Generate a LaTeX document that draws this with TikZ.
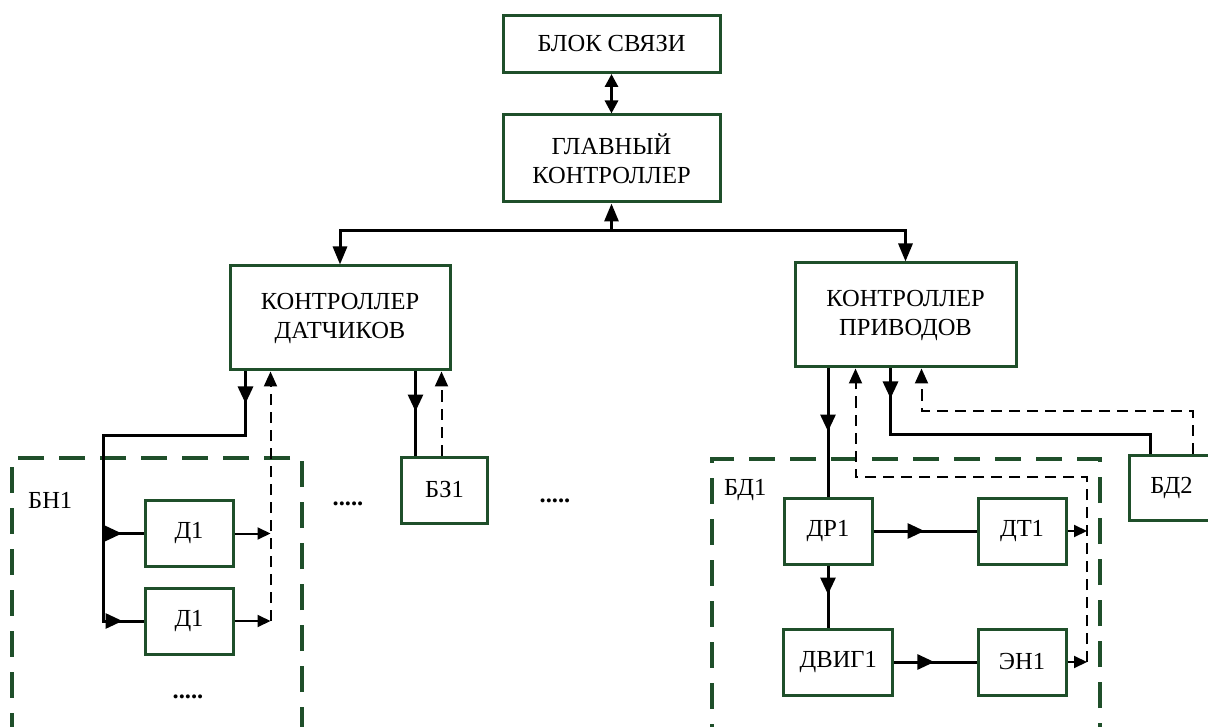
\documentclass[tikz,border=0pt]{standalone}
\usepackage{fontspec}
\setmainfont{Liberation Serif}
\usepackage{tikz}
\usetikzlibrary{arrows.meta,positioning,calc,decorations.markings}
\usepackage{xcolor}
\definecolor{boxgreen}{HTML}{1F4F2A}

\begin{document}
\begin{tikzpicture}[
  x=1pt, y=-1pt,
  blk/.style={draw=boxgreen, line width=3pt, fill=white, inner sep=0pt, font=\fontsize{24.5}{29}\selectfont, align=center},
  grp/.style={draw=boxgreen, line width=4pt, dash pattern=on 26pt off 15pt, inner sep=0pt},
  lbl/.style={font=\fontsize{24.5}{29}\selectfont, inner sep=0pt},
  conn/.style={line width=3pt, black},
  outl/.style={line width=2pt, black, -{Triangle[length=13pt, width=12pt]}},
  fb/.style={line width=2pt, black, dash pattern=on 11pt off 7pt, -{Triangle[length=15pt, width=13pt]}},
  tip/.style={-{Triangle[length=18pt, width=14pt]}},
  tipat/.style={postaction={decorate, decoration={markings, mark=at position #1 with {\arrow{Triangle[length=17pt, width=15pt]}}}}}
]
  \useasboundingbox (0,0) rectangle (1208,727);

  % groups
  \node[grp, minimum width=290pt, minimum height=272pt] (bn1) at (157,594) {};
  \node[grp, minimum width=388pt, minimum height=271pt] (bd1) at (906,594.5) {};
  \node[lbl, anchor=west] (bn1lbl) at (28,500) {БН1};
  \node[lbl, anchor=west] (bd1lbl) at (724,490) {БД1};

  % upper level
  \node[blk, minimum width=217pt, minimum height=57pt] (blok) at (611.5,44) {БЛОК СВЯЗИ};
  \node[blk, minimum width=217pt, minimum height=87pt] (glav) at (611.5,158.5) {ГЛАВНЫЙ\\КОНТРОЛЛЕР};
  \node[blk, minimum width=220pt, minimum height=104pt] (kd) at (340,318) {КОНТРОЛЛЕР\\ДАТЧИКОВ};
  \node[blk, minimum width=221pt, minimum height=104pt] (kp) at (905.5,315) {КОНТРОЛЛЕР\\ПРИВОДОВ};

  % sensors
  \node[blk, minimum width=88pt, minimum height=66pt] (d1a) at (189,533.5) {Д1};
  \node[blk, minimum width=88pt, minimum height=66pt] (d1b) at (189,621) {Д1};
  \node[blk, minimum width=86pt, minimum height=66pt] (bz1) at (444.5,490) {БЗ1};

  % drives
  \node[blk, minimum width=88pt, minimum height=66pt] (dr1) at (828,531) {ДР1};
  \node[blk, minimum width=88pt, minimum height=66pt] (dt1) at (1022,531) {ДТ1};
  \node[blk, minimum width=109pt, minimum height=66pt] (dvig1) at (838.3,662) {ДВИГ1};
  \node[blk, minimum width=88pt, minimum height=66pt] (en1) at (1022,662) {ЭН1};
  \node[blk, minimum width=85pt, minimum height=65pt] (bd2) at (1171.5,487.5) {БД2};

  % continue dots
  \node[lbl] (dots1) at (188,697) {\textbf{.....}};
  \node[lbl] (dots2) at (348,504) {\textbf{.....}};
  \node[lbl] (dots3) at (555,501) {\textbf{.....}};

  % junction points
  \coordinate (bus) at (611.5,231);
  \coordinate (bnbus) at (103,435);
  \coordinate (kdo) at ([xshift=17pt]kd.south west);
  \coordinate (kdi) at ([xshift=42pt]kd.south west);
  \coordinate (kdo2) at ([xshift=-36pt]kd.south east);
  \coordinate (kdi2) at ([xshift=-10pt]kd.south east);
  \coordinate (kpi) at ([xshift=62pt]kp.south west);
  \coordinate (kpo2) at ([xshift=97pt]kp.south west);
  \coordinate (kpi2) at ([xshift=128pt]kp.south west);
  \coordinate (fbx) at (1087,477);
  \coordinate (bdo) at ([xshift=23pt]bd2.north west);
  \coordinate (bdi) at ([xshift=65pt]bd2.north west);

  % top links
  \draw[conn, {Triangle[length=13pt, width=13pt]}-{Triangle[length=13pt, width=13pt]}] (blok) -- (glav);
  \draw[conn, tip] (bus) -- (glav.south);
  \draw[conn, tip] (bus) -| (kd.north);
  \draw[conn, tip] (bus) -| (kp.north);

  % sensor side
  \draw[conn, tipat=32pt, tipat=-21pt] (kdo) |- (bnbus) |- (d1b.west);
  \draw[conn, tipat=19pt] (bnbus |- d1a.west) -- (d1a.west);
  \draw[outl] (d1a.east) -- (kdi |- d1a.east);
  \draw[outl] (d1b.east) -- (kdi |- d1b.east);
  \draw[fb] (kdi |- d1b.east) -- (kdi);
  \draw[conn, tipat=40pt] (kdo2) -- (kdo2 |- bz1.north);
  \draw[fb] (kdi2 |- bz1.north) -- (kdi2);

  % drive side
  \draw[conn, tipat=63pt] (kp.south -| dr1.north) -- (dr1.north);
  \draw[conn, tipat=51pt] (dr1.east) -- (dt1.west);
  \draw[conn, tipat=29pt] (dr1.south) -- (dr1.south |- dvig1.north);
  \draw[conn, tipat=40pt] (dvig1.east) -- (en1.west);
  \draw[outl] (dt1.east) -- (fbx |- dt1.east);
  \draw[outl] (en1.east) -- (fbx |- en1.east);
  \draw[fb] (fbx |- en1.east) -- (fbx) -| (kpi);
  \draw[conn, tipat=30pt] (kpo2) -- ++(0,66) -| (bdo);
  \draw[fb] (bdi) -- ++(0,-43) -| (kpi2);
\end{tikzpicture}
\end{document}
